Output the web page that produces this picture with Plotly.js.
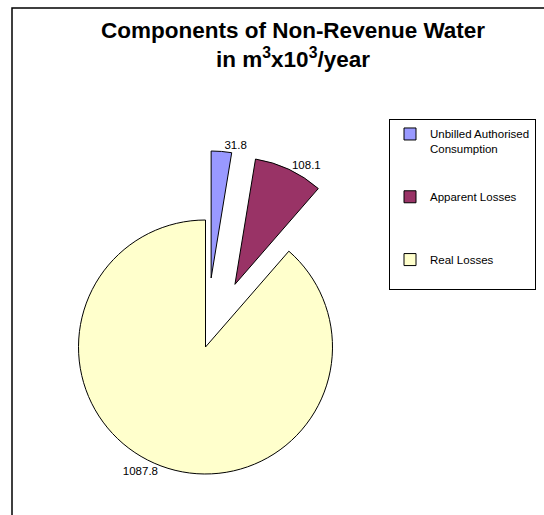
<!DOCTYPE html>
<html>
<head>
<meta charset="utf-8">
<script src="https://cdn.plot.ly/plotly-3.0.1.min.js"></script>
<style>
  html, body { margin: 0; padding: 0; background: #fff; overflow: hidden; }
  #wrap { width: 544px; height: 515px; overflow: hidden; position: relative; }
  #chart { width: 560px; height: 560px; }
</style>
</head>
<body>
<div id="wrap"><div id="chart"></div></div>
<script>
// Data
const categories = ["Unbilled Authorised Consumption", "Apparent Losses", "Real Losses"];
const legendNames = ["Unbilled Authorised<br>Consumption", "Apparent Losses", "Real Losses"];
const values = [31.8, 108.1, 1087.8];
const sliceColors = ["#9999FF", "#993366", "#FFFFCC"];

// extra blank lines to space legend entries like the original
const padLines = [2, 3, 1];
const labels = legendNames.map((n, i) => n + "<br> ".repeat(padLines[i]));

const W = 560, H = 560;
const cx = 205.5, cy = 347, r = 127, pull = 0.545;
const half = r * (1 + pull);
const FONT = "Arial, 'Liberation Sans', sans-serif";

const trace = {
  type: "pie",
  labels: labels,
  values: values,
  customdata: categories,
  sort: false,
  direction: "clockwise",
  rotation: 0,
  pull: [pull, pull, 0],
  marker: { colors: sliceColors, line: { color: "#000", width: 1 } },
  texttemplate: "%{value:.1f}",
  textposition: "outside",
  outsidetextfont: { family: FONT, size: 11.5, color: "#000" },
  hovertemplate: "%{customdata}: %{value}<extra></extra>",
  domain: {
    x: [(cx - half) / W, (cx + half) / W],
    y: [1 - (cy + half) / H, 1 - (cy - half) / H]
  }
};

const layout = {
  width: W,
  height: H,
  margin: { l: 0, r: 0, t: 0, b: 0 },
  paper_bgcolor: "#fff",
  font: { family: FONT, color: "#000" },
  title: {
    text: "Components of Non-Revenue Water<br>in m<sup>3</sup>x10<sup>3</sup>/year",
    font: { family: FONT, size: 22.5, color: "#000", weight: "bold" },
    x: 293 / W,
    xanchor: "center",
    xref: "container",
    y: 1 - 38 / H,
    yref: "container",
    yanchor: "top"
  },
  showlegend: true,
  legend: {
    x: 389 / W,
    xanchor: "left",
    y: 1 - 119 / H,
    yanchor: "top",
    bgcolor: "#fff",
    bordercolor: "#000",
    borderwidth: 1,
    valign: "top",
    font: { family: FONT, size: 11.5, color: "#000" }
  },
  shapes: [{
    type: "rect", xref: "paper", yref: "paper",
    x0: 12 / W, x1: 554 / W, y0: 1 - 554 / H, y1: 1 - 8 / H,
    line: { color: "#000", width: 1.5 }, fillcolor: "rgba(0,0,0,0)", layer: "below"
  }]
};

Plotly.newPlot("chart", [trace], layout, { displayModeBar: false, staticPlot: true });
</script>
</body>
</html>
